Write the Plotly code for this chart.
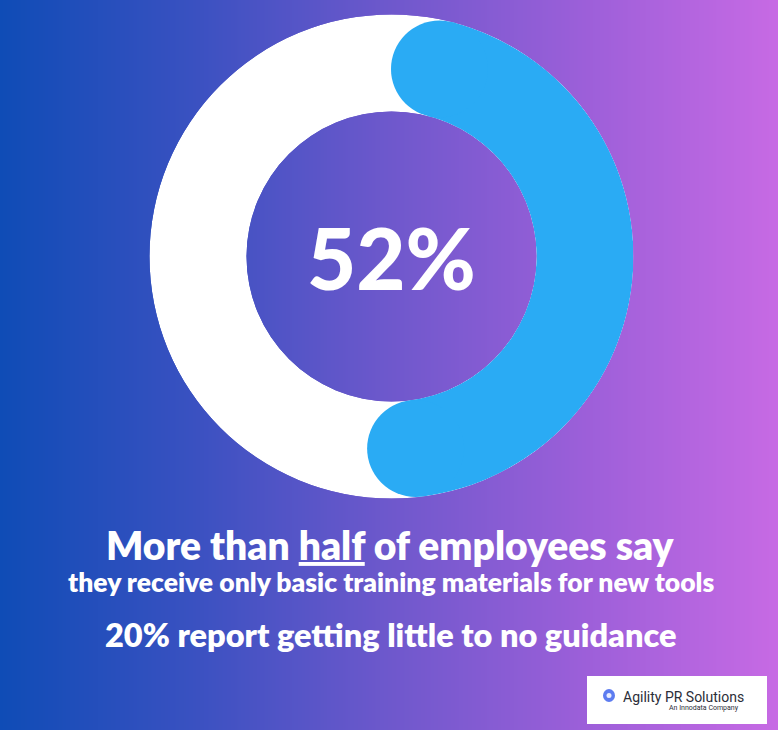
import numpy as np
import plotly.graph_objects as go

# data
share_pct = 52
headline = "More than <u>half</u> of employees say"
subline = "they receive only basic training materials for new tools"
footline = "20% report getting little to no guidance"
bg_stops = [0.0, 0.25, 0.5, 0.75, 1.0]
bg_colors = ["#0f4cb6", "#3a51c1", "#6e58cc", "#9c5fd9", "#c76ae4"]

W, H = 778, 730
ring_outer = 242          # px
ring_inner = 145          # px
ring_mid = (ring_outer + ring_inner) / 2
cap_r = (ring_outer - ring_inner) / 2
hole = ring_inner / ring_outer

# the arc with its round caps covers share_pct of the circle
span = 360 * share_pct / 100
cap_deg = np.degrees(cap_r / ring_mid)
arc_start = cap_deg
arc_end = span - cap_deg

fig = go.Figure()

# background gradient
gx = np.linspace(0, 1, 200)
fig.add_trace(go.Heatmap(
    x=gx, y=[0, 1], z=[gx, gx],
    colorscale=[[s, c] for s, c in zip(bg_stops, bg_colors)],
    zsmooth="best", showscale=False, hoverinfo="skip",
    xaxis="x", yaxis="y",
))

# white track
fig.add_trace(go.Barpolar(
    r=[1], theta=[180], width=[360], base=0,
    marker=dict(color="white", line=dict(width=0)),
    hoverinfo="skip", subplot="polar",
))
# blue arc
fig.add_trace(go.Barpolar(
    r=[1], theta=[(arc_start + arc_end) / 2], width=[arc_end - arc_start], base=0,
    marker=dict(color="#2aabf4", line=dict(width=0)),
    hoverinfo="skip", subplot="polar",
))
# round caps
fig.add_trace(go.Scatterpolar(
    r=[0.5, 0.5], theta=[arc_start, arc_end], mode="markers",
    marker=dict(size=2 * cap_r, color="#2aabf4", line=dict(width=0)),
    hoverinfo="skip", subplot="polar",
))

cx = 391.5 / W
cy = 1 - 256.5 / H
fig.update_layout(
    width=W, height=H,
    margin=dict(l=0, r=0, t=0, b=0),
    showlegend=False,
    paper_bgcolor="#6e58cc",
    xaxis=dict(domain=[0, 1], range=[0, 1], visible=False, fixedrange=True),
    yaxis=dict(domain=[0, 1], range=[0, 1], visible=False, fixedrange=True),
    polar=dict(
        domain=dict(x=[cx - ring_outer / W, cx + ring_outer / W],
                    y=[cy - ring_outer / H, cy + ring_outer / H]),
        hole=hole,
        bgcolor="rgba(0,0,0,0)",
        radialaxis=dict(range=[0, 1], visible=False),
        angularaxis=dict(rotation=90, direction="clockwise", visible=False),
    ),
)

font = "Lato"
fig.add_annotation(x=cx, y=cy, xref="paper", yref="paper", yanchor="middle",
                   text="%d%%" % share_pct, showarrow=False,
                   font=dict(family=font, size=85, weight=900, color="white"))
fig.add_annotation(x=0.5025, y=1 - 545 / H, xref="paper", yref="paper", yanchor="middle",
                   text=headline, showarrow=False,
                   font=dict(family=font, size=39, weight=800, color="white"))
fig.add_annotation(x=0.5025, y=1 - 582 / H, xref="paper", yref="paper", yanchor="middle",
                   text=subline, showarrow=False,
                   font=dict(family=font, size=26.5, weight=800, color="white"))
fig.add_annotation(x=0.5025, y=1 - 634 / H, xref="paper", yref="paper", yanchor="middle",
                   text=footline, showarrow=False,
                   font=dict(family=font, size=32.5, weight=800, color="white"))

# logo box
fig.add_shape(type="rect", xref="paper", yref="paper",
              x0=587 / W, x1=767 / W, y0=1 - 724 / H, y1=1 - 676 / H,
              fillcolor="white", line=dict(width=0))
fig.add_shape(type="circle", xref="paper", yref="paper",
              x0=603 / W, x1=615 / W, y0=1 - 702 / H, y1=1 - 689 / H,
              fillcolor="#5d7cf0", line=dict(width=0))
fig.add_shape(type="circle", xref="paper", yref="paper",
              x0=606.5 / W, x1=611.5 / W, y0=1 - 698 / H, y1=1 - 693 / H,
              fillcolor="#e8ecff", line=dict(width=0))
fig.add_annotation(x=621 / W, y=1 - 697 / H, xref="paper", yref="paper",
                   xanchor="left", yanchor="middle", text="Agility PR Solutions", showarrow=False,
                   font=dict(family="Roboto", size=14, color="#2b2d38"))
fig.add_annotation(x=741 / W, y=1 - 708 / H, xref="paper", yref="paper",
                   xanchor="right", yanchor="middle", text="An Innodata Company", showarrow=False,
                   font=dict(family="Roboto", size=7, color="#2b2d38"))

fig.write_html("out.html", config={"displayModeBar": False},
               post_script="document.body.style.margin='0';")
